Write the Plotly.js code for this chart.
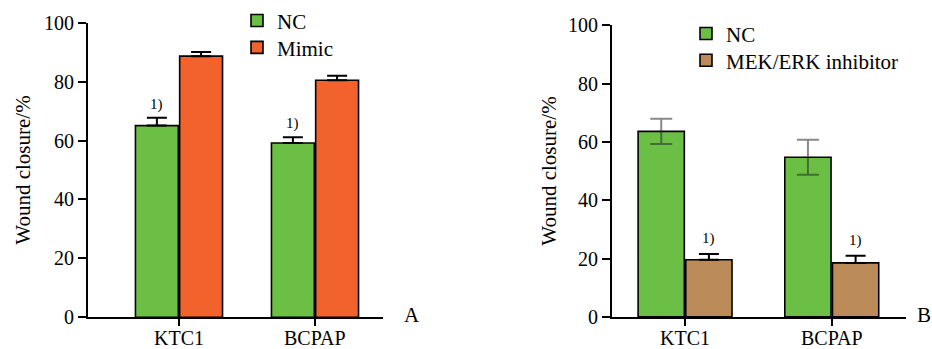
<!DOCTYPE html>
<html>
<head>
<meta charset="utf-8">
<script src="https://cdn.plot.ly/plotly-3.0.1.min.js"></script>
<style>html,body{margin:0;padding:0;background:#fff;}#chart{width:932px;height:349px;}</style>
</head>
<body>
<div id="chart"></div>
<script>
// ---- data ----
const categories = ["KTC1", "BCPAP"];
// Panel A
const ncA = [65.1, 59.2];
const ncAErr = [2.7, 1.9];
const mimicA = [88.7, 80.5];
const mimicAErr = [1.4, 1.5];
const sigA = ["1)", "1)"];      // marks over NC bars
// Panel B
const ncB = [63.6, 54.7];
const ncBErr = [4.3, 6.0];
const inhB = [19.6, 18.5];
const inhBErr = [2.0, 2.5];
const sigB = ["1)", "1)"];      // marks over inhibitor bars
const yTicks = [0, 20, 40, 60, 80, 100];

// ---- styles ----
const green = "#6CBF45", orange = "#F1622D", brown = "#BB8B59";
const FONT = "'Liberation Serif', 'Times New Roman', 'DejaVu Serif', serif";
const zeros = categories.map(() => 0);
const bargap = 0.35;

const traces = [
  {type: "bar", name: "NC", x: categories, y: ncA, xaxis: "x", yaxis: "y",
   marker: {color: green, line: {color: "#000", width: 1.6}},
   error_y: {type: "data", array: ncAErr, arrayminus: zeros, symmetric: false, color: "#000", thickness: 2, width: 10},
   legend: "legend"},
  {type: "bar", name: "Mimic", x: categories, y: mimicA, xaxis: "x", yaxis: "y",
   marker: {color: orange, line: {color: "#000", width: 1.6}},
   error_y: {type: "data", array: mimicAErr, arrayminus: zeros, symmetric: false, color: "#000", thickness: 2, width: 10},
   legend: "legend2"},
  {type: "bar", name: "NC", x: categories, y: ncB, xaxis: "x2", yaxis: "y2",
   marker: {color: green, line: {color: "#000", width: 1.6}},
   error_y: {type: "data", array: ncBErr, symmetric: true, color: "rgba(40,40,40,0.55)", thickness: 2, width: 11},
   legend: "legend3"},
  {type: "bar", name: "MEK/ERK inhibitor", x: categories, y: inhB, xaxis: "x2", yaxis: "y2",
   marker: {color: brown, line: {color: "#000", width: 1.6}},
   error_y: {type: "data", array: inhBErr, arrayminus: zeros, symmetric: false, color: "#000", thickness: 2, width: 10},
   legend: "legend4"}
];

const off = (1 - bargap) / 4;
const annotations = [];
categories.forEach((c, i) => {
  annotations.push({xref: "x", yref: "y", x: i - off, y: ncA[i] + ncAErr[i], text: sigA[i],
    showarrow: false, yanchor: "bottom", yshift: 3, font: {family: FONT, size: 15, color: "#000"}});
  annotations.push({xref: "x2", yref: "y2", x: i + off, y: inhB[i] + inhBErr[i], text: sigB[i],
    showarrow: false, yanchor: "bottom", yshift: 5, font: {family: FONT, size: 15, color: "#000"}});
  // category labels under each axis (kept inside the canvas)
  ["x", "x2"].forEach(ax => {
    annotations.push({xref: ax, yref: "paper", x: c, y: 0, yanchor: "bottom", yshift: -1, text: c,
      showarrow: false, borderpad: 0, font: {family: FONT, size: 20, color: "#000"}});
  });
});
annotations.push({xref: "paper", yref: "paper", x: 402 / 932, y: (349 - 315) / 349, xanchor: "left", yanchor: "middle",
  text: "A", showarrow: false, font: {family: FONT, size: 21, color: "#000"}});
annotations.push({xref: "paper", yref: "paper", x: 1, y: (349 - 315) / 349, xanchor: "right", yanchor: "middle",
  text: "B", showarrow: false, borderpad: 0, font: {family: FONT, size: 21, color: "#000"}});

const xCommon = {type: "category", showline: true, linecolor: "#000", linewidth: 2, ticks: "outside",
  ticklen: 7, tickwidth: 2, tickcolor: "#000", showgrid: false, zeroline: false, automargin: false,
  showticklabels: false};
const yCommon = {range: [0, 100], tickvals: yTicks, showline: true, linecolor: "#000", linewidth: 2,
  ticks: "outside", ticklen: 8, tickwidth: 2, tickcolor: "#000", showgrid: false, zeroline: false,
  automargin: false, tickfont: {family: FONT, size: 20, color: "#000"}};

function leg(xpx, ypx) {
  return {x: xpx / 932, y: 1 - ypx / 349, xanchor: "left", yanchor: "middle", bgcolor: "rgba(0,0,0,0)",
    font: {family: FONT, size: 21, color: "#000"}, tracegroupgap: 0};
}

const layout = {
  width: 932, height: 349,
  margin: {l: 0, r: 0, t: 0, b: 0},
  paper_bgcolor: "#fff", plot_bgcolor: "#fff",
  barmode: "group", bargap: bargap, bargroupgap: 0.03,
  font: {family: FONT, color: "#000"},
  xaxis: Object.assign({}, xCommon, {domain: [88 / 932, 383 / 932], range: [-0.669, 1.5], anchor: "y"}),
  yaxis: Object.assign({}, yCommon, {domain: [32 / 349, 328 / 349], anchor: "x",
    title: {text: "Wound closure/%", font: {family: FONT, size: 21, color: "#000"}, standoff: 8}}),
  xaxis2: Object.assign({}, xCommon, {domain: [612 / 932, 906 / 932], range: [-0.498, 1.506], anchor: "y2"}),
  yaxis2: Object.assign({}, yCommon, {domain: [32.3 / 349, 325.7 / 349], anchor: "x2",
    title: {text: "Wound closure/%", font: {family: FONT, size: 21, color: "#000"}, standoff: 6}}),
  legend: leg(237, 19),
  legend2: leg(237, 46),
  legend3: leg(686, 32),
  legend4: leg(686, 59),
  annotations: annotations,
  showlegend: true
};

Plotly.newPlot("chart", traces, layout, {displayModeBar: false, staticPlot: true});
</script>
</body>
</html>
